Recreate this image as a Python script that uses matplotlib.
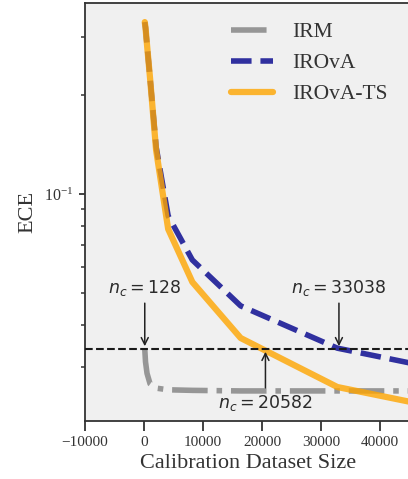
import matplotlib
matplotlib.use("Agg")
import matplotlib.pyplot as plt

# calibration set sizes and ECE per method
sizes = [128, 256, 512, 1024, 2048, 4096, 8192, 16384, 32768, 50000]
ece_irm = [0.0339, 0.0310, 0.0286, 0.0266, 0.0258, 0.0255, 0.0254, 0.0253, 0.0253, 0.0253]
ece_irova = [0.332, 0.319, 0.283, 0.2245, 0.139, 0.0858, 0.0631, 0.0458, 0.0341, 0.0295]
ece_irova_ts = [0.332, 0.319, 0.283, 0.2245, 0.136, 0.0783, 0.0541, 0.0366, 0.0260, 0.0225]

threshold = 0.0339
nc_above = [128, 33038]   # label above the line
nc_below = [20582]        # label below the line

plt.rcParams['font.family'] = ['Liberation Serif', 'DejaVu Serif']
plt.rcParams['axes.edgecolor'] = '#333333'
plt.rcParams['xtick.color'] = '#333333'
plt.rcParams['ytick.color'] = '#333333'

fig = plt.figure(figsize=(4.08, 4.79), dpi=100)
ax = fig.add_axes([85 / 408, 1 - 421 / 479, 326 / 408, 418 / 479])
ax.set_facecolor('#f0f0f0')

ax.plot(sizes, ece_irm, color='gray', alpha=0.8, lw=4, ls='-.', label='IRM')
ax.plot(sizes, ece_irova, color='darkblue', alpha=0.8, lw=4, ls='--', label='IROvA')
ax.plot(sizes, ece_irova_ts, color='orange', alpha=0.8, lw=4.5,
        solid_capstyle='round', label='IROvA-TS')
ax.axhline(threshold, color='#1a1a1a', lw=1.5, ls='--', zorder=3)

for n in nc_above:
    ax.annotate(rf'$n_c={n}$', xy=(n, threshold), xytext=(0, 37),
                textcoords='offset points', ha='center', va='bottom',
                fontsize=12.5, color='#2b2b2b', family='DejaVu Sans',
                math_fontfamily='dejavusans',
                arrowprops=dict(arrowstyle='->', color='#222222', lw=1.1))
for n in nc_below:
    ax.annotate(rf'$n_c={n}$', xy=(n, threshold), xytext=(0, -32),
                textcoords='offset points', ha='center', va='top',
                fontsize=12.5, color='#2b2b2b', family='DejaVu Sans',
                math_fontfamily='dejavusans',
                arrowprops=dict(arrowstyle='->', color='#222222', lw=1.1))

ax.set_yscale('log')
ax.set_xlim(-10000, 45250)
ax.set_ylim(0.02051, 0.3793)
ax.set_xticks([-10000, 0, 10000, 20000, 30000, 40000])

for s in ax.spines.values():
    s.set_linewidth(1.3)
ax.tick_params(axis='x', which='major', direction='out', length=7, width=1.3,
               labelsize=11, labelcolor='#333333')
ax.tick_params(axis='y', which='major', direction='out', length=4.5, width=1.3,
               labelsize=11.5, labelcolor='#333333')
ax.tick_params(axis='y', which='minor', direction='out', length=3, width=1.1)

ax.set_xlabel('Calibration Dataset Size', fontsize=16, color='#333333')
ax.set_ylabel('ECE', fontsize=16, color='#333333', labelpad=5)

ax.legend(loc='upper right', bbox_to_anchor=(0.988, 1.0), frameon=False,
          fontsize=15.5, handlelength=1.95, handletextpad=0.9,
          labelcolor='#333333')

fig.savefig('out.png', dpi=100)
